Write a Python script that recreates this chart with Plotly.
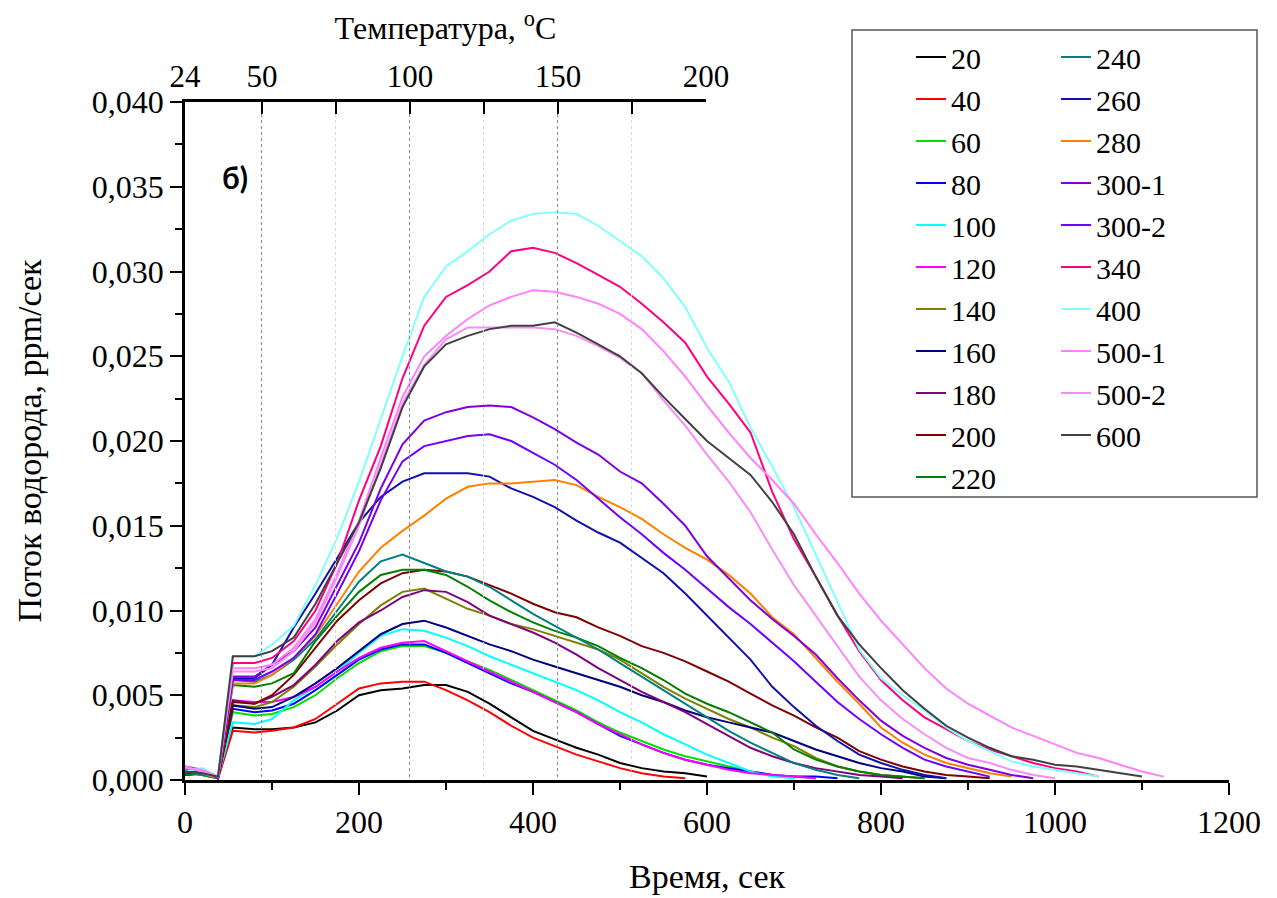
import plotly.graph_objects as go

# sampling times, s
time_s = [0, 20, 38, 45, 55, 80, 100, 125, 150, 175, 200, 225, 250, 275, 300, 325, 350,
          375, 400, 425, 450, 475, 500, 525, 550, 575, 600, 625, 650, 675, 700, 725, 750,
          775, 800, 825, 850, 875, 900, 925, 950, 975, 1000, 1025, 1050, 1075, 1100, 1125]

# hydrogen flux, ppm/s
f20 = [0.0003, 0.0004, 0.0001, 0.0014, 0.0031, 0.0030, 0.0030, 0.0031, 0.0034, 0.0041, 0.0050, 0.0053,
       0.0054, 0.0056, 0.0056, 0.0052, 0.0045, 0.0037, 0.0029, 0.0024, 0.0019, 0.0015, 0.0010, 0.0007,
       0.0005, 0.0004, 0.0002]
f40 = [0.0005, 0.0004, 0.0001, 0.0012, 0.0029, 0.0028, 0.0029, 0.0031, 0.0036, 0.0045, 0.0054, 0.0057,
       0.0058, 0.0058, 0.0053, 0.0047, 0.0040, 0.0032, 0.0025, 0.0020, 0.0015, 0.0011, 0.0007, 0.0004,
       0.0002, 0.0001]
f60 = [0.0004, 0.0003, 0.0001, 0.0017, 0.0040, 0.0038, 0.0039, 0.0043, 0.0050, 0.0060, 0.0069, 0.0076,
       0.0079, 0.0079, 0.0075, 0.0070, 0.0065, 0.0059, 0.0053, 0.0047, 0.0041, 0.0034, 0.0028, 0.0023,
       0.0018, 0.0014, 0.0011, 0.0008, 0.0005, 0.0003, 0.0002, 0.0001]
f80 = [0.0003, 0.0005, 0.0001, 0.0018, 0.0042, 0.0040, 0.0041, 0.0045, 0.0053, 0.0062, 0.0071, 0.0077,
       0.0080, 0.0080, 0.0075, 0.0069, 0.0063, 0.0057, 0.0052, 0.0046, 0.0040, 0.0033, 0.0026, 0.0021,
       0.0016, 0.0012, 0.0009, 0.0007, 0.0005, 0.0003, 0.0002, 0.0002, 0.0001]
f100 = [0.0006, 0.0004, 0.0002, 0.0015, 0.0034, 0.0033, 0.0036, 0.0047, 0.0055, 0.0064, 0.0075, 0.0085,
        0.0089, 0.0088, 0.0084, 0.0079, 0.0073, 0.0068, 0.0063, 0.0058, 0.0053, 0.0047, 0.0040, 0.0034,
        0.0027, 0.0021, 0.0015, 0.0010, 0.0005, 0.0002, 0.0001]
f120 = [0.0008, 0.0006, 0.0002, 0.0020, 0.0047, 0.0046, 0.0046, 0.0049, 0.0055, 0.0064, 0.0072, 0.0078,
        0.0081, 0.0082, 0.0076, 0.0070, 0.0064, 0.0058, 0.0052, 0.0046, 0.0040, 0.0033, 0.0027, 0.0021,
        0.0016, 0.0012, 0.0009, 0.0006, 0.0004, 0.0003, 0.0002, 0.0001]
f140 = [0.0004, 0.0003, 0.0001, 0.0019, 0.0044, 0.0043, 0.0046, 0.0055, 0.0067, 0.0080, 0.0092, 0.0103,
        0.0111, 0.0113, 0.0107, 0.0101, 0.0097, 0.0092, 0.0089, 0.0085, 0.0081, 0.0077, 0.0071, 0.0063,
        0.0055, 0.0048, 0.0042, 0.0036, 0.0031, 0.0025, 0.0020, 0.0013, 0.0008, 0.0005, 0.0003, 0.0002,
        0.0001]
f160 = [0.0003, 0.0004, 0.0001, 0.0019, 0.0044, 0.0042, 0.0043, 0.0049, 0.0057, 0.0066, 0.0076, 0.0086,
        0.0092, 0.0094, 0.0090, 0.0085, 0.0080, 0.0076, 0.0071, 0.0067, 0.0063, 0.0059, 0.0055, 0.0050,
        0.0046, 0.0041, 0.0037, 0.0034, 0.0031, 0.0028, 0.0023, 0.0018, 0.0014, 0.0010, 0.0007, 0.0005,
        0.0002, 0.0001]
f180 = [0.0005, 0.0004, 0.0001, 0.0020, 0.0047, 0.0045, 0.0049, 0.0056, 0.0068, 0.0082, 0.0093, 0.0100,
        0.0108, 0.0112, 0.0111, 0.0105, 0.0097, 0.0092, 0.0087, 0.0081, 0.0074, 0.0066, 0.0059, 0.0052,
        0.0046, 0.0040, 0.0033, 0.0026, 0.0019, 0.0014, 0.0010, 0.0007, 0.0005, 0.0003, 0.0002, 0.0001]
f200 = [0.0004, 0.0006, 0.0001, 0.0020, 0.0046, 0.0045, 0.0050, 0.0062, 0.0078, 0.0094, 0.0106, 0.0116,
        0.0122, 0.0124, 0.0123, 0.0120, 0.0115, 0.0110, 0.0104, 0.0099, 0.0096, 0.0090, 0.0085, 0.0079,
        0.0075, 0.0070, 0.0064, 0.0058, 0.0051, 0.0044, 0.0038, 0.0031, 0.0025, 0.0017, 0.0012, 0.0008,
        0.0005, 0.0003, 0.0002, 0.0001]
f220 = [0.0003, 0.0004, 0.0001, 0.0024, 0.0056, 0.0055, 0.0057, 0.0063, 0.0082, 0.0097, 0.0111, 0.0121,
        0.0124, 0.0124, 0.0121, 0.0114, 0.0106, 0.0099, 0.0093, 0.0088, 0.0084, 0.0079, 0.0072, 0.0066,
        0.0059, 0.0051, 0.0045, 0.0040, 0.0034, 0.0028, 0.0018, 0.0012, 0.0008, 0.0005, 0.0003, 0.0002,
        0.0001]
f240 = [0.0005, 0.0003, 0.0001, 0.0026, 0.0059, 0.0058, 0.0062, 0.0071, 0.0083, 0.0100, 0.0117, 0.0129,
        0.0133, 0.0128, 0.0123, 0.0120, 0.0114, 0.0106, 0.0098, 0.0091, 0.0084, 0.0077, 0.0069, 0.0061,
        0.0053, 0.0045, 0.0037, 0.0029, 0.0022, 0.0016, 0.0010, 0.0006, 0.0003, 0.0001]
f260 = [0.0004, 0.0005, 0.0001, 0.0026, 0.0060, 0.0060, 0.0068, 0.0090, 0.0110, 0.0131, 0.0152, 0.0167,
        0.0176, 0.0181, 0.0181, 0.0181, 0.0179, 0.0172, 0.0167, 0.0161, 0.0153, 0.0146, 0.0140, 0.0131,
        0.0122, 0.0110, 0.0097, 0.0084, 0.0071, 0.0055, 0.0043, 0.0032, 0.0023, 0.0015, 0.0010, 0.0006,
        0.0003, 0.0001]
f280 = [0.0005, 0.0004, 0.0001, 0.0025, 0.0057, 0.0057, 0.0062, 0.0072, 0.0085, 0.0104, 0.0123, 0.0137,
        0.0147, 0.0156, 0.0166, 0.0173, 0.0175, 0.0175, 0.0176, 0.0177, 0.0174, 0.0167, 0.0161, 0.0154,
        0.0145, 0.0137, 0.0130, 0.0121, 0.0110, 0.0096, 0.0086, 0.0072, 0.0058, 0.0045, 0.0031, 0.0022,
        0.0015, 0.0010, 0.0007, 0.0004, 0.0002]
f300_1 = [0.0006, 0.0005, 0.0002, 0.0027, 0.0061, 0.0061, 0.0068, 0.0076, 0.0090, 0.0115, 0.0140, 0.0172,
          0.0198, 0.0212, 0.0217, 0.0220, 0.0221, 0.0220, 0.0214, 0.0207, 0.0199, 0.0192, 0.0182, 0.0175,
          0.0163, 0.0150, 0.0132, 0.0119, 0.0106, 0.0095, 0.0085, 0.0074, 0.0060, 0.0047, 0.0035, 0.0026,
          0.0019, 0.0013, 0.0009, 0.0006, 0.0003, 0.0001]
f300_2 = [0.0004, 0.0006, 0.0001, 0.0026, 0.0059, 0.0059, 0.0064, 0.0072, 0.0086, 0.0110, 0.0135, 0.0165,
          0.0188, 0.0197, 0.0200, 0.0203, 0.0204, 0.0200, 0.0193, 0.0186, 0.0177, 0.0166, 0.0155, 0.0145,
          0.0134, 0.0124, 0.0113, 0.0102, 0.0092, 0.0081, 0.0070, 0.0058, 0.0046, 0.0036, 0.0027, 0.0019,
          0.0012, 0.0008, 0.0005, 0.0002]
f340 = [0.0008, 0.0005, 0.0002, 0.0030, 0.0069, 0.0069, 0.0072, 0.0082, 0.0100, 0.0128, 0.0165, 0.0197,
        0.0237, 0.0268, 0.0285, 0.0292, 0.0300, 0.0312, 0.0314, 0.0311, 0.0305, 0.0298, 0.0291, 0.0281,
        0.0270, 0.0258, 0.0238, 0.0222, 0.0205, 0.0170, 0.0142, 0.0120, 0.0097, 0.0076, 0.0059, 0.0047,
        0.0037, 0.0030, 0.0023, 0.0018, 0.0014, 0.0010, 0.0007, 0.0005, 0.0002]
f400 = [0.0005, 0.0007, 0.0002, 0.0032, 0.0073, 0.0073, 0.0080, 0.0091, 0.0115, 0.0143, 0.0176, 0.0213,
        0.0250, 0.0285, 0.0303, 0.0312, 0.0322, 0.0330, 0.0334, 0.0335, 0.0334, 0.0327, 0.0318, 0.0309,
        0.0296, 0.0279, 0.0255, 0.0235, 0.0208, 0.0185, 0.0161, 0.0133, 0.0106, 0.0077, 0.0060, 0.0050,
        0.0041, 0.0031, 0.0023, 0.0017, 0.0011, 0.0008, 0.0006, 0.0004, 0.0002]
f500_1 = [0.0007, 0.0006, 0.0002, 0.0029, 0.0066, 0.0066, 0.0068, 0.0078, 0.0095, 0.0122, 0.0153, 0.0190,
          0.0226, 0.0250, 0.0262, 0.0272, 0.0280, 0.0285, 0.0289, 0.0288, 0.0285, 0.0281, 0.0275, 0.0266,
          0.0253, 0.0238, 0.0221, 0.0205, 0.0190, 0.0177, 0.0163, 0.0145, 0.0128, 0.0110, 0.0094, 0.0080,
          0.0066, 0.0054, 0.0045, 0.0038, 0.0031, 0.0026, 0.0021, 0.0016, 0.0013, 0.0009, 0.0005, 0.0002]
f500_2 = [0.0008, 0.0005, 0.0002, 0.0028, 0.0064, 0.0064, 0.0066, 0.0076, 0.0093, 0.0120, 0.0150, 0.0186,
          0.0222, 0.0245, 0.0260, 0.0267, 0.0267, 0.0267, 0.0267, 0.0266, 0.0262, 0.0256, 0.0249, 0.0240,
          0.0224, 0.0209, 0.0192, 0.0176, 0.0158, 0.0136, 0.0115, 0.0097, 0.0079, 0.0061, 0.0047, 0.0036,
          0.0027, 0.0019, 0.0013, 0.0010, 0.0006, 0.0003, 0.0001]
f600 = [0.0005, 0.0004, 0.0002, 0.0032, 0.0073, 0.0073, 0.0076, 0.0084, 0.0104, 0.0128, 0.0152, 0.0184,
        0.0220, 0.0244, 0.0257, 0.0262, 0.0266, 0.0268, 0.0268, 0.0270, 0.0264, 0.0257, 0.0250, 0.0240,
        0.0226, 0.0213, 0.0200, 0.0190, 0.0180, 0.0164, 0.0145, 0.0120, 0.0097, 0.0080, 0.0066, 0.0053,
        0.0042, 0.0032, 0.0025, 0.0019, 0.0014, 0.0012, 0.0009, 0.0008, 0.0006, 0.0004, 0.0002]

labels_col1 = ["20", "40", "60", "80", "100", "120", "140", "160", "180", "200", "220"]
labels_col2 = ["240", "260", "280", "300-1", "300-2", "340", "400", "500-1", "500-2", "600"]
values_col1 = [f20, f40, f60, f80, f100, f120, f140, f160, f180, f200, f220]
values_col2 = [f240, f260, f280, f300_1, f300_2, f340, f400, f500_1, f500_2, f600]
colors_col1 = ["#000000", "#FF0000", "#00E000", "#0000FF", "#00FFFF", "#FF00FF", "#808000",
               "#000080", "#800080", "#800000", "#008000"]
colors_col2 = ["#008080", "#1010B0", "#FF8000", "#8000E0", "#7000FF", "#FF0080", "#80FFFF",
               "#FF80FF", "#F88CF8", "#404040"]

# top temperature axis
temp_ticks = [24, 50, 100, 150, 200]
temp_minor = [75, 125, 175]

FONT = "Times New Roman, Liberation Serif, serif"

fig = go.Figure()
for name, y, c in zip(labels_col1, values_col1, colors_col1):
    fig.add_trace(go.Scatter(x=time_s[:len(y)], y=y, name=name, mode="lines",
                             line=dict(color=c, width=2), legend="legend"))
for name, y, c in zip(labels_col2, values_col2, colors_col2):
    fig.add_trace(go.Scatter(x=time_s[:len(y)], y=y, name=name, mode="lines",
                             line=dict(color=c, width=2), legend="legend2"))
# empty trace so the temperature axis subplot is created
fig.add_trace(go.Scatter(x=[], y=[], xaxis="x2", yaxis="y", showlegend=False,
                         hoverinfo="skip", mode="lines"))

W, H = 1277, 898
L, R, T, B = 185, 48, 102, 118
pw = W - L - R
ph = H - T - B

def px_to_paper_x(px):
    return (px - L) / pw

def py_to_paper_y(py):
    return (H - B - py) / ph

top_frac = (706 - L) / pw

fig.update_layout(
    width=W, height=H,
    margin=dict(l=L, r=R, t=T, b=B, autoexpand=False),
    paper_bgcolor="white", plot_bgcolor="rgba(0,0,0,0)",
    separators=", ",
    font=dict(family=FONT, size=30, color="black"),
    xaxis=dict(
        range=[0, 1200], dtick=200, tick0=0,
        showline=True, linecolor="black", linewidth=2.5,
        ticks="outside", ticklen=12, tickwidth=2, tickcolor="black",
        minor=dict(dtick=100, ticks="outside", ticklen=7, tickwidth=2, tickcolor="black"),
        showgrid=False, zeroline=False,
        tickfont=dict(family=FONT, size=32),
        title=dict(text="Время, сек", font=dict(family=FONT, size=34), standoff=26),
    ),
    xaxis2=dict(
        domain=[0, top_frac], anchor="y", side="top",
        range=[24, 200],
        tickvals=temp_ticks,
        showline=True, linecolor="black", linewidth=2.5,
        ticks="inside", ticklen=12, tickwidth=2, tickcolor="black",
        showgrid=True, gridcolor="#8a8a8a", griddash="dot", gridwidth=1,
        minor=dict(tickvals=temp_minor, ticks="inside", ticklen=12, tickwidth=2,
                   tickcolor="black", showgrid=True, gridcolor="#d9d9d9",
                   griddash="dot", gridwidth=1),
        zeroline=False, layer="below traces",
        tickfont=dict(family=FONT, size=31),
        title=dict(text="Температура, <sup>o</sup>C", font=dict(family=FONT, size=32), standoff=10),
    ),
    yaxis=dict(
        range=[0, 0.040], dtick=0.005, tick0=0, tickformat=".3f",
        showline=True, linecolor="black", linewidth=2.5,
        ticks="outside", ticklen=12, tickwidth=2, tickcolor="black",
        minor=dict(dtick=0.0025, ticks="outside", ticklen=7, tickwidth=2, tickcolor="black"),
        showgrid=False, zeroline=False,
        tickfont=dict(family=FONT, size=32),
        title=dict(text="Поток водорода, ppm/сек", font=dict(family=FONT, size=34), standoff=40),
    ),
    legend=dict(
        xref="container", yref="container",
        x=911 / W, y=1 - 31 / H, xanchor="left", yanchor="top",
        bgcolor="rgba(0,0,0,0)", borderwidth=0, maxheight=800,
        font=dict(family=FONT, size=30), tracegroupgap=0,
    ),
    legend2=dict(
        xref="container", yref="container",
        x=1056 / W, y=1 - 31 / H, xanchor="left", yanchor="top",
        bgcolor="rgba(0,0,0,0)", borderwidth=0, maxheight=800,
        font=dict(family=FONT, size=30), tracegroupgap=0,
    ),
    showlegend=True,
)

# legend frame
fig.add_shape(type="rect", xref="paper", yref="paper",
              x0=px_to_paper_x(852), x1=px_to_paper_x(1257),
              y0=py_to_paper_y(497), y1=py_to_paper_y(30),
              line=dict(color="#555555", width=1.5), fillcolor="rgba(0,0,0,0)")

fig.add_annotation(text="<b>б)</b>", xref="paper", yref="paper",
                   x=px_to_paper_x(220), y=py_to_paper_y(177),
                   xanchor="left", yanchor="middle", showarrow=False,
                   font=dict(family="Lato", size=30, color="black"))

fig.write_html("out.html")
